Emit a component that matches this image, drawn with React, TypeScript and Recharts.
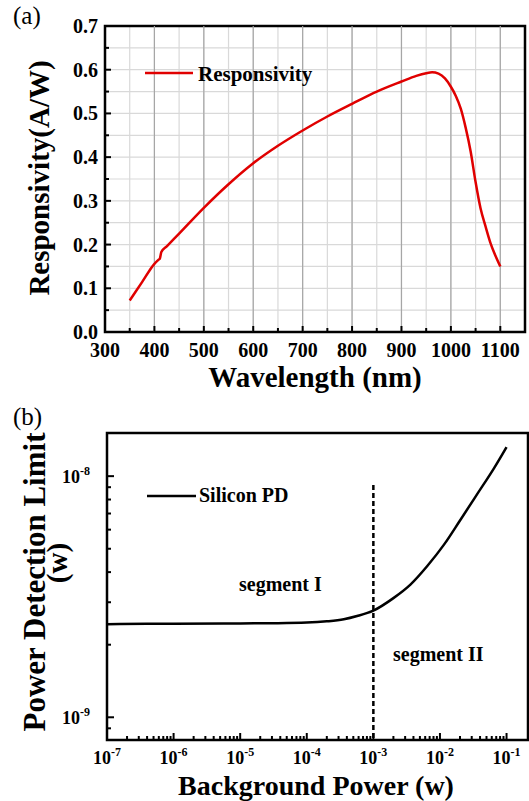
import React from 'react';
import {
  LineChart,
  Line,
  XAxis,
  YAxis,
  CartesianGrid,
  ReferenceLine,
  ReferenceArea,
} from 'recharts';

// ---- panel (a): responsivity curve ----
const wavelength = [350, 375, 400, 408, 411, 414, 425, 450, 500, 550, 600, 650, 700, 750, 800, 850, 900, 930, 950, 962, 975, 988, 1000, 1010, 1020, 1030, 1040, 1050, 1060, 1070, 1080, 1090, 1100];
const responsivity = [0.072, 0.114, 0.156, 0.165, 0.168, 0.183, 0.196, 0.225, 0.284, 0.338, 0.386, 0.426, 0.461, 0.493, 0.522, 0.55, 0.573, 0.586, 0.592, 0.594, 0.591, 0.58, 0.561, 0.54, 0.511, 0.467, 0.413, 0.343, 0.283, 0.242, 0.204, 0.175, 0.15];
const waveTicks = [300, 350, 400, 450, 500, 550, 600, 650, 700, 750, 800, 850, 900, 950, 1000, 1050, 1100];
const waveMajor = [400, 500, 600, 700, 800, 900, 1000, 1100];
const respTicks = [0, 0.05, 0.1, 0.15, 0.2, 0.25, 0.3, 0.35, 0.4, 0.45, 0.5, 0.55, 0.6, 0.65, 0.7];

// ---- panel (b): detection limit vs background power ----
const bgPower = [1e-7, 4e-7, 1e-6, 1e-5, 3e-5, 1e-4, 2e-4, 3.6e-4, 5.7e-4, 1e-3, 2e-3, 3.6e-3, 6.5e-3, 1.15e-2, 2e-2, 3.6e-2, 6.5e-2, 1e-1];
const detectionLimit = [2.43e-9, 2.44e-9, 2.44e-9, 2.45e-9, 2.455e-9, 2.47e-9, 2.5e-9, 2.55e-9, 2.63e-9, 2.77e-9, 3.12e-9, 3.55e-9, 4.25e-9, 5.2e-9, 6.55e-9, 8.4e-9, 1.08e-8, 1.32e-8];
const powerTicks = [
  1e-7, 2e-7, 3e-7, 4e-7, 5e-7, 6e-7, 7e-7, 8e-7, 9e-7,
  1e-6, 2e-6, 3e-6, 4e-6, 5e-6, 6e-6, 7e-6, 8e-6, 9e-6,
  1e-5, 2e-5, 3e-5, 4e-5, 5e-5, 6e-5, 7e-5, 8e-5, 9e-5,
  1e-4, 2e-4, 3e-4, 4e-4, 5e-4, 6e-4, 7e-4, 8e-4, 9e-4,
  1e-3, 2e-3, 3e-3, 4e-3, 5e-3, 6e-3, 7e-3, 8e-3, 9e-3,
  1e-2, 2e-2, 3e-2, 4e-2, 5e-2, 6e-2, 7e-2, 8e-2, 9e-2,
  1e-1,
];
const limitTicks = [9e-10, 1e-9, 2e-9, 3e-9, 4e-9, 5e-9, 6e-9, 7e-9, 8e-9, 9e-9, 1e-8];
const dividerPower = 1e-3;
const dividerTop = 9.2e-9;

const respData = wavelength.map((w, i) => ({ w, r: responsivity[i] }));
const limitData = bgPower.map((p, i) => ({ p, nep: detectionLimit[i] }));

const SERIF = "'Liberation Serif', 'Times New Roman', serif";
const isDecade = (v: number) => Math.abs(Math.log10(v) - Math.round(Math.log10(v))) < 1e-6;

const WaveTick = (props: any) => {
  const { x, y, payload } = props;
  const v = payload.value;
  const major = v % 100 === 0;
  return (
    <g>
      <line x1={x} x2={x} y1={y} y2={y - (major ? 6 : 4)} stroke="#000" strokeWidth={2} />
      {major && (
        <text x={x} y={y + 25} textAnchor="middle" fontFamily={SERIF} fontWeight="bold" fontSize={20} fill="#000">
          {v}
        </text>
      )}
    </g>
  );
};

const RespTick = (props: any) => {
  const { x, y, payload } = props;
  const v = payload.value;
  const major = Math.round(v * 100) % 10 === 0;
  return (
    <g>
      <line x1={x} x2={x + (major ? 6 : 4)} y1={y} y2={y} stroke="#000" strokeWidth={2} />
      {major && (
        <text x={x - 7} y={y + 7} textAnchor="end" fontFamily={SERIF} fontWeight="bold" fontSize={20} fill="#000">
          {v.toFixed(1)}
        </text>
      )}
    </g>
  );
};

const PowerTick = (props: any) => {
  const { x, y, payload } = props;
  const v = payload.value;
  const major = isDecade(v);
  return (
    <g>
      <line x1={x} x2={x} y1={y} y2={y - (major ? 7 : 4)} stroke="#000" strokeWidth={2} />
      {major && (
        <text x={x} y={y + 24} textAnchor="middle" fontFamily={SERIF} fontWeight="bold" fontSize={18} fill="#000">
          10<tspan dy={-8} fontSize={12}>{Math.round(Math.log10(v))}</tspan>
        </text>
      )}
    </g>
  );
};

const LimitTick = (props: any) => {
  const { x, y, payload } = props;
  const v = payload.value;
  const major = isDecade(v);
  return (
    <g>
      <line x1={x} x2={x + (major ? 7 : 4)} y1={y} y2={y} stroke="#000" strokeWidth={2} />
      {major && (
        <text x={x - 17} y={y + 7} textAnchor="end" fontFamily={SERIF} fontWeight="bold" fontSize={18} fill="#000">
          10<tspan dy={-8} fontSize={12}>{Math.round(Math.log10(v))}</tspan>
        </text>
      )}
    </g>
  );
};

const txt = { fontFamily: SERIF, fill: '#000' } as const;

export default function App() {
  return (
    <div style={{ position: 'absolute', left: 0, top: 0, width: 529, height: 801, background: '#fff' }}>
      <div style={{ position: 'absolute', left: 0, top: 0 }}>
        <LineChart width={529} height={400} data={respData} margin={{ top: 26, right: 4, bottom: 0, left: 0 }}>
          <CartesianGrid stroke="#d9d9d9" strokeWidth={1.2} />
          {waveMajor.map((w) => (
            <ReferenceLine key={w} x={w} stroke="#a6a6a6" strokeWidth={1.2} />
          ))}
          <XAxis
            dataKey="w"
            type="number"
            domain={[300, 1150]}
            ticks={waveTicks}
            interval={0}
            axisLine={false}
            tickLine={false}
            tickSize={0}
            tickMargin={0}
            height={68}
            tick={WaveTick}
          />
          <YAxis
            type="number"
            domain={[0, 0.7]}
            ticks={respTicks}
            interval={0}
            axisLine={false}
            tickLine={false}
            tickSize={0}
            tickMargin={0}
            width={105}
            tick={RespTick}
          />
          <ReferenceArea x1={300} x2={1150} y1={0} y2={0.7} fill="none" stroke="#000" strokeWidth={2.5} ifOverflow="visible" />
          <Line
            dataKey="r"
            name="Responsivity"
            type="monotone"
            stroke="#e00000"
            strokeWidth={2.5}
            dot={false}
            isAnimationActive={false}
          />
        </LineChart>
      </div>

      <div style={{ position: 'absolute', left: 0, top: 400 }}>
        <LineChart width={529} height={401} data={limitData} margin={{ top: 33, right: 1, bottom: 0, left: 0 }}>
          <XAxis
            dataKey="p"
            type="number"
            scale="log"
            domain={[1e-7, 0.21]}
            allowDataOverflow
            ticks={powerTicks}
            interval={0}
            axisLine={false}
            tickLine={false}
            tickSize={0}
            tickMargin={0}
            height={61}
            tick={PowerTick}
          />
          <YAxis
            type="number"
            scale="log"
            domain={[8.05e-10, 1.51e-8]}
            allowDataOverflow
            ticks={limitTicks}
            interval={0}
            axisLine={false}
            tickLine={false}
            tickSize={0}
            tickMargin={0}
            width={107}
            tick={LimitTick}
          />
          <ReferenceArea x1={1e-7} x2={0.21} y1={8.05e-10} y2={1.51e-8} fill="none" stroke="#000" strokeWidth={2.5} ifOverflow="visible" />
          <ReferenceLine
            segment={[
              { x: dividerPower, y: dividerTop },
              { x: dividerPower, y: 8.05e-10 },
            ]}
            stroke="#000"
            strokeWidth={2.5}
            strokeDasharray="5 3"
          />
          <Line
            dataKey="nep"
            name="Silicon PD"
            type="monotone"
            stroke="#000"
            strokeWidth={2.5}
            dot={false}
            isAnimationActive={false}
          />
        </LineChart>
      </div>

      <svg width={529} height={801} style={{ position: 'absolute', left: 0, top: 0, pointerEvents: 'none' }}>
        <text x={13} y={24} fontSize={25} {...txt}>(a)</text>
        <text x={13} y={425} fontSize={25} {...txt}>(b)</text>

        <line x1={145} x2={193} y1={73} y2={73} stroke="#e00000" strokeWidth={2.5} />
        <text x={198} y={81} fontSize={21} fontWeight="bold" {...txt}>Responsivity</text>

        <line x1={147} x2={196} y1={496} y2={496} stroke="#000" strokeWidth={2.5} />
        <text x={199} y={502} fontSize={20} fontWeight="bold" {...txt}>Silicon PD</text>

        <text x={239} y={591} fontSize={20} fontWeight="bold" {...txt}>segment I</text>
        <text x={393} y={661} fontSize={20} fontWeight="bold" {...txt}>segment II</text>

        <text x={315} y={387} textAnchor="middle" fontSize={29} fontWeight="bold" {...txt}>Wavelength (nm)</text>
        <text transform="translate(49,178) rotate(-90)" textAnchor="middle" fontSize={29} fontWeight="bold" {...txt}>
          Responsivity(A/W)
        </text>

        <text x={316} y={794.5} textAnchor="middle" fontSize={28} fontWeight="bold" {...txt}>Background Power (w)</text>
        <text transform="translate(45,582) rotate(-90)" textAnchor="middle" fontSize={31} fontWeight="bold" {...txt}>
          Power Detection Limit
        </text>
        <text transform="translate(67,563) rotate(-90)" textAnchor="middle" fontSize={29} fontWeight="bold" {...txt}>
          (w)
        </text>
      </svg>
    </div>
  );
}
